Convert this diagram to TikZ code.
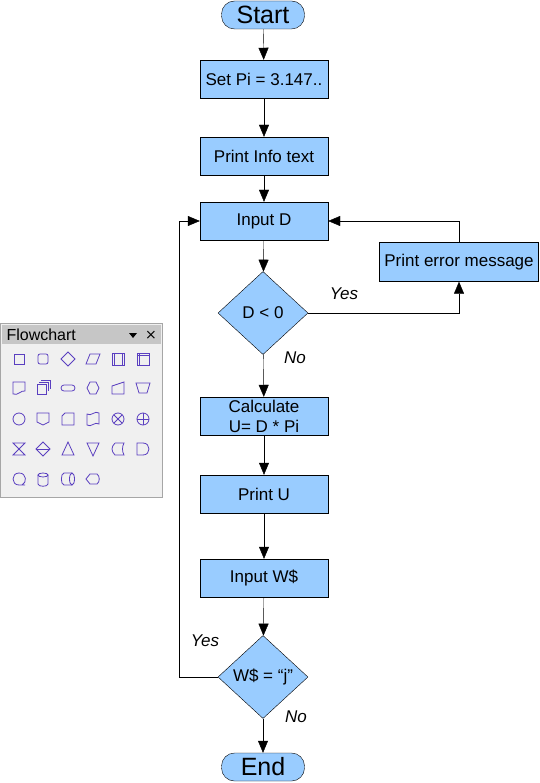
\documentclass[tikz,border=0pt]{standalone}
\usepackage{fontspec}
\setmainfont{Liberation Sans}
\newfontfamily\dejavu{DejaVu Sans}
\usetikzlibrary{arrows.meta,shapes.geometric}
\definecolor{boxfill}{HTML}{99CCFF}
\definecolor{ico}{HTML}{5A3FC0}
\begin{document}
\begin{tikzpicture}[x=1pt,y=-1pt,
  every node/.style={font=\fontsize{17}{19}\selectfont},
  proc/.style={draw,fill=boxfill,minimum width=128pt,minimum height=38pt,inner sep=0pt,align=center},
  term/.style={draw,fill=boxfill,rounded corners=13pt,minimum width=83pt,minimum height=28pt,inner sep=0pt,font=\fontsize{25}{27}\selectfont},
  dec/.style={draw,fill=boxfill,diamond,minimum width=90pt,minimum height=83pt,inner sep=0pt},
  arr/.style={-{Triangle[length=12pt,width=10pt]}},
  lbl/.style={font=\fontsize{17}{19}\selectfont\itshape},
  ic/.style={draw=ico,line width=0.8pt}]
\useasboundingbox (0,0) rectangle (539,783);
\fill[white] (0,0) rectangle (539,783);
\node[term] (start) at (263,15) {Start};
\node[proc] (setpi) at (264,79) {Set Pi = 3.147..};
\node[proc] (info) at (264,156) {Print Info text};
\node[proc] (inD) at (264,221) {Input D};
\node[proc,minimum width=159pt,minimum height=39pt] (err) at (459,262) {Print error message};
\node[dec] (d0) at (263,313) {D < 0};
\node[proc,font=\fontsize{17}{20}\selectfont] (calc) at (264,416) {Calculate\\U= D * Pi};
\node[proc] (pu) at (264,494) {Print U};
\node[proc] (inW) at (264,578) {Input W\$};
\node[dec] (dw) at (263,677) {W\$ = “j”};
\node[term] (end) at (263,767) {End};
\draw[arr] (start) -- (setpi);
\draw[arr] (setpi) -- (info);
\draw[arr] (info) -- (inD);
\draw[arr] (inD) -- (d0);
\draw[arr] (d0) -- (calc);
\draw[arr] (calc) -- (pu);
\draw[arr] (pu) -- (inW);
\draw[arr] (inW) -- (dw);
\draw[arr] (dw) -- (end);
\draw[arr] (d0.east) -| (err.south);
\draw[arr] (err.north) |- (inD.east);
\coordinate (lp) at (179,677);
\draw[arr] (dw.west) -- (lp) |- (inD.west);
\node[lbl] at (344,294) {Yes};
\node[lbl] at (295,358) {No};
\node[lbl] at (205,641) {Yes};
\node[lbl] at (296,717) {No};
% panel
\draw[gray!70,fill=gray!12] (0.5,323.5) rectangle (162.5,497.5);
\fill[gray!45] (2,325) rectangle (161,344);
\node[anchor=west,font=\fontsize{16}{18}\selectfont] (ptitle) at (3,335) {Flowchart};
\fill (129,333) -- (137,333) -- (133,338) -- cycle;
\node[font=\dejavu\fontsize{14}{16}\selectfont] (px) at (151,335) {×};
% row1
\begin{scope}[shift={(19,359)}]\draw[ic] (-5,-5) rectangle (5,5);\end{scope}
\begin{scope}[shift={(43,359)}]\draw[ic,rounded corners=2pt] (-5,-5) rectangle (5,5);\end{scope}
\begin{scope}[shift={(68,359)}]\draw[ic] (0,-7)--(7,0)--(0,7)--(-7,0)--cycle;\end{scope}
\begin{scope}[shift={(93,359)}]\draw[ic] (-3,-5)--(7,-5)--(3,5)--(-7,5)--cycle;\end{scope}
\begin{scope}[shift={(118,359)}]\draw[ic] (-6,-6) rectangle (6,6);\draw[ic] (-4,-6)--(-4,6) (4,-6)--(4,6);\end{scope}
\begin{scope}[shift={(143,359)}]\draw[ic] (-6,-6) rectangle (6,6);\draw[ic] (-3.5,-6)--(-3.5,6) (-6,-3.5)--(6,-3.5);\end{scope}
% row2
\begin{scope}[shift={(19,388)}]\draw[ic] (-6,-6)--(6,-6)--(6,3) .. controls (2,2) and (-1,8) .. (-6,6)--cycle;\end{scope}
\begin{scope}[shift={(43,388)}]\draw[ic] (-2,-8)--(7,-8)--(7,1); \draw[ic] (-4,-6)--(5,-6)--(5,3); \draw[ic] (-6,-4) rectangle (3,6);\end{scope}
\begin{scope}[shift={(68,388)}]\draw[ic,rounded corners=3pt] (-7,-3) rectangle (7,3);\end{scope}
\begin{scope}[shift={(93,388)}]\draw[ic] (-3,-6)--(3,-6)--(6,0)--(3,6)--(-3,6)--(-6,0)--cycle;\end{scope}
\begin{scope}[shift={(118,388)}]\draw[ic] (-6,-2)--(6,-6)--(6,6)--(-6,6)--cycle;\end{scope}
\begin{scope}[shift={(143,388)}]\draw[ic] (-7,-5)--(7,-5)--(4,5)--(-4,5)--cycle;\end{scope}
% row3
\begin{scope}[shift={(19,419)}]\draw[ic] (0,0) circle (6);\end{scope}
\begin{scope}[shift={(43,419)}]\draw[ic] (-6,-6)--(6,-6)--(6,3)--(0,6)--(-6,3)--cycle;\end{scope}
\begin{scope}[shift={(68,419)}]\draw[ic] (-3,-6)--(6,-6)--(6,6)--(-6,6)--(-6,-3)--cycle;\end{scope}
\begin{scope}[shift={(93,419)}]\draw[ic] (-6,-5) .. controls (-2,-2) and (2,-9) .. (6,-6)--(6,5) .. controls (2,2) and (-2,9) .. (-6,6)--cycle;\end{scope}
\begin{scope}[shift={(118,419)}]\draw[ic] (0,0) circle (6);\draw[ic] (-4.2,-4.2)--(4.2,4.2) (-4.2,4.2)--(4.2,-4.2);\end{scope}
\begin{scope}[shift={(143,419)}]\draw[ic] (0,0) circle (6);\draw[ic] (-6,0)--(6,0) (0,-6)--(0,6);\end{scope}
% row4
\begin{scope}[shift={(19,449)}]\draw[ic] (-6,-6)--(6,-6)--(-6,6)--(6,6)--cycle;\end{scope}
\begin{scope}[shift={(43,449)}]\draw[ic] (0,-7)--(7,0)--(0,7)--(-7,0)--cycle;\draw[ic] (-7,0)--(7,0);\end{scope}
\begin{scope}[shift={(68,449)}]\draw[ic] (0,-7)--(6,6)--(-6,6)--cycle;\end{scope}
\begin{scope}[shift={(93,449)}]\draw[ic] (-6,-6)--(6,-6)--(0,7)--cycle;\end{scope}
\begin{scope}[shift={(118,449)}]\draw[ic] (-3,-6)--(6,-6) .. controls (4,-2) and (4,2) .. (6,6)--(-3,6) .. controls (-7,2) and (-7,-2) .. (-3,-6);\end{scope}
\begin{scope}[shift={(143,449)}]\draw[ic] (-6,-6)--(0,-6) .. controls (8,-6) and (8,6) .. (0,6)--(-6,6)--cycle;\end{scope}
% row5
\begin{scope}[shift={(19,479)}]\draw[ic] (6,6)--(0,6) .. controls (-8,6) and (-8,-6) .. (0,-6) .. controls (8,-6) and (8,4) .. (3,6);\end{scope}
\begin{scope}[shift={(43,479)}]
  \draw[ic] (0,-4) ellipse [x radius=5,y radius=2];
  \draw[ic] (-5,-4)--(-5,5) .. controls (-5,8) and (5,8) .. (5,5)--(5,-4);\end{scope}
\begin{scope}[shift={(68,479)}]
  \draw[ic] (4,0) ellipse [x radius=2.5,y radius=6];
  \draw[ic] (4,-6)--(-4,-6) .. controls (-7.5,-6) and (-7.5,6) .. (-4,6)--(4,6);\end{scope}
\begin{scope}[shift={(93,479)}]\draw[ic] (-3,-5)--(4,-5) .. controls (7,-3) and (7,3) .. (4,5)--(-3,5)--(-7,0)--cycle;\end{scope}
\end{tikzpicture}
\end{document}
